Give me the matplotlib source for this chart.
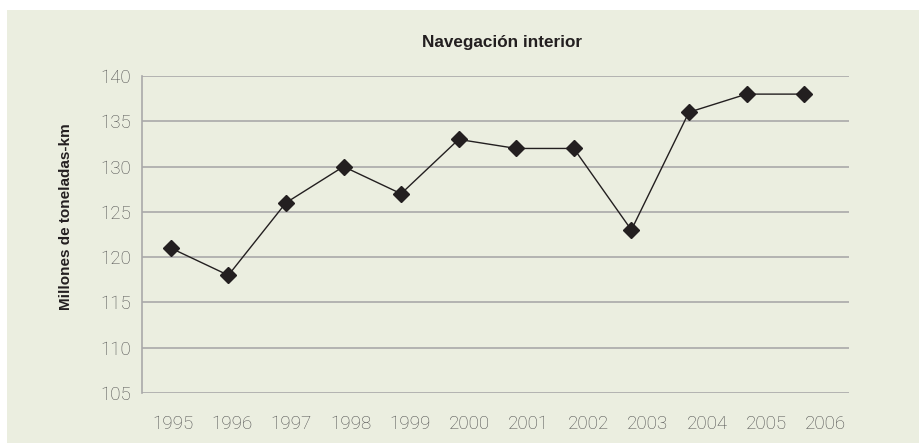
import numpy as np
import matplotlib.pyplot as plt
from matplotlib.patches import Rectangle

years = ['1995', '1996', '1997', '1998', '1999', '2000',
         '2001', '2002', '2003', '2004', '2005', '2006']
values = [121, 118, 126, 130, 127, 133, 132, 132, 123, 136, 138, 138]

bg = '#ebeee0'
grid = '#a9a9a9'

plt.rcParams['font.family'] = ['Liberation Sans', 'DejaVu Sans']

fig = plt.figure(figsize=(9.2, 4.43), dpi=100)
fig.patch.set_facecolor('white')
# beige panel behind the chart
fig.patches.append(Rectangle((7 / 920, 0), 1 - 7 / 920, 1 - 10 / 443,
                             transform=fig.transFigure, facecolor=bg,
                             edgecolor='none', zorder=-1))

ax = fig.add_axes([142 / 920, 1 - 393 / 443, (849 - 142) / 920, (393 - 76) / 443])
ax.set_facecolor(bg)

x = np.arange(len(years))
ax.plot(x, values, color='#231f20', lw=1.0, marker='D', markersize=8,
        markerfacecolor='#231f20', markeredgecolor='#231f20', zorder=3)

ax.set_ylim(105, 140)
ax.set_yticks(np.arange(105, 141, 5))
ax.set_xlim(-0.5, 11.78)
# labels sit on a slightly wider spacing than the markers in the original
ax.set_xticks(0.033 + 1.031 * x)
ax.set_xticklabels(years)

ax.grid(axis='y', color=grid, lw=1.2)
ax.set_axisbelow(True)
for s in ['top', 'right', 'bottom']:
    ax.spines[s].set_visible(False)
ax.spines['left'].set_color(grid)
ax.spines['left'].set_linewidth(1.2)
ax.tick_params(length=0, labelsize=13.5, labelcolor='#4f4f4f')
ax.tick_params(axis='x', pad=15.5)
ax.tick_params(axis='y', pad=8)
for lbl in ax.get_xticklabels() + ax.get_yticklabels():
    lbl.set_family(['Roboto', 'Liberation Sans'])
    lbl.set_fontweight('light')

ax.set_ylabel('Millones de toneladas-km', fontsize=11, fontweight='bold',
              color='#231f20')
ax.yaxis.set_label_coords(-0.098, 0.555)
fig.text(502 / 920, 1 - 42 / 443, 'Navegación interior', ha='center', va='center',
         fontsize=12.3, fontweight='bold', color='#231f20')

fig.savefig('out.png', dpi=100, facecolor=fig.get_facecolor())
